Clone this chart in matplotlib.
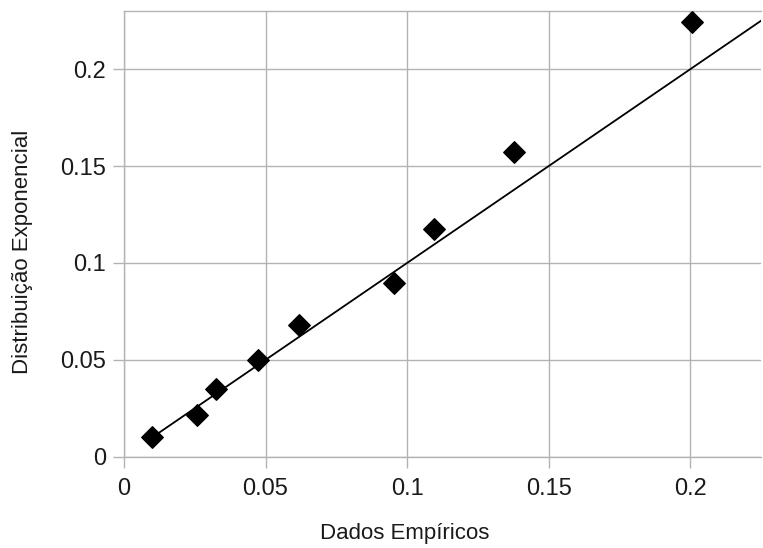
import numpy as np
import matplotlib
matplotlib.use("Agg")
import matplotlib.pyplot as plt

# Dados
dados_empiricos = [0.0100, 0.0257, 0.0325, 0.0472, 0.0619, 0.0953, 0.1095, 0.1378, 0.2007]
dist_exponencial = [0.0103, 0.0215, 0.0348, 0.0499, 0.0680, 0.0895, 0.1177, 0.1571, 0.2246]

# Reta y = x
reta_x = [0.01, 0.23]
reta_y = [0.01, 0.23]

x_ticks = [0, 0.05, 0.1, 0.15, 0.2]
x_labels = ["0", "0.05", "0.1", "0.15", "0.2"]
y_ticks = [0, 0.05, 0.1, 0.15, 0.2]
y_labels = ["0", "0.05", "0.1", "0.15", "0.2"]

plt.rcParams['font.family'] = ['Liberation Sans', 'DejaVu Sans']

W, H = 763, 548
fig = plt.figure(figsize=(W/100, H/100), dpi=100)
ax = fig.add_axes([124/W, (H-456.7)/H, 637/W, 446/H])

grey = '#b3b3b3'
ax.plot(reta_x, reta_y, color='black', linewidth=1.3, zorder=3)
ax.scatter(dados_empiricos, dist_exponencial, marker='D', s=120, color='black', zorder=4)

ax.set_xlim(0, 0.225)
ax.set_ylim(0, 0.2302)
ax.set_xticks(x_ticks)
ax.set_xticklabels(x_labels)
ax.set_yticks(y_ticks)
ax.set_yticklabels(y_labels)
ax.grid(True, color=grey, linewidth=1)
ax.set_axisbelow(True)

ax.spines['right'].set_visible(False)
for s in ['left', 'bottom', 'top']:
    ax.spines[s].set_color(grey)
    ax.spines[s].set_linewidth(1)

ax.tick_params(axis='both', direction='out', length=8, width=1, color=grey,
               labelsize=17, labelcolor='#1a1a1a')
ax.tick_params(axis='x', pad=7)
ax.tick_params(axis='y', pad=5)

ax.set_xlabel('Dados Empíricos', fontsize=16, color='#1a1a1a')
ax.set_ylabel('Distribuição Exponencial', fontsize=16, color='#1a1a1a')
ax.xaxis.set_label_coords(405/W, (H-523)/H, transform=fig.transFigure)
ax.yaxis.set_label_coords(33/W, (H-252)/H, transform=fig.transFigure)

plt.savefig("out.png", dpi=100)
